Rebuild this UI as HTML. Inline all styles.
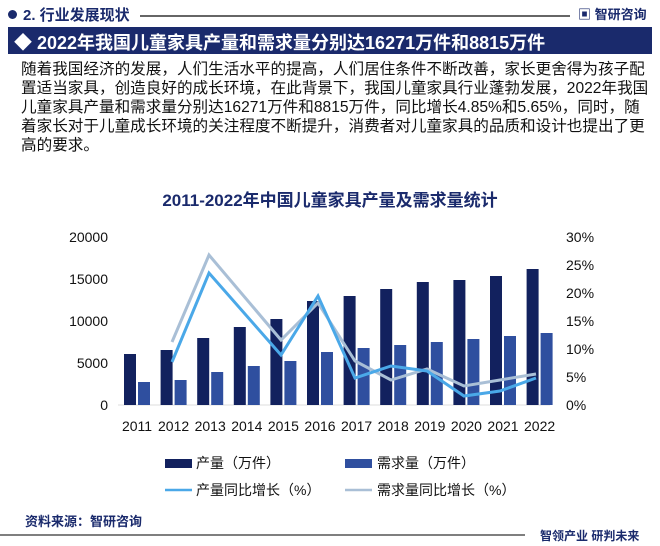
<!DOCTYPE html>
<html><head><meta charset="utf-8"><style>
body{margin:0;width:660px;height:546px;background:#fff;font-family:"Liberation Sans","Noto Sans CJK SC",sans-serif;position:relative;overflow:hidden;color:#111}
.a{position:absolute;white-space:nowrap}
</style></head><body>
<div class="a" style="left:8px;top:10px;width:9px;height:9px;border-radius:50%;background:#1a2a6c"></div>
<div class="a" style="left:23px;top:4px;font-size:15px;font-weight:bold;color:#1a2a6c">2. 行业发展现状</div>
<div class="a" style="left:140px;top:15px;width:430px;height:2px;background:#666"></div>
<div class="a" style="left:578px;top:4px;font-size:13px;font-weight:bold;color:#1a2a6c">▣ 智研咨询</div>
<div class="a" style="left:8px;top:27px;width:644px;height:27px;background:#1a2a6c"></div>
<div class="a" style="left:14px;top:29px;font-size:18px;font-weight:bold;color:#fff">◆ 2022年我国儿童家具产量和需求量分别达16271万件和8815万件</div>
<div class="a" style="left:21px;top:60px;font-size:15.6px;line-height:19px;color:#111">随着我国经济的发展，人们生活水平的提高，人们居住条件不断改善，家长更舍得为孩子配<br>置适当家具，创造良好的成长环境，在此背景下，我国儿童家具行业蓬勃发展，2022年我国<br>儿童家具产量和需求量分别达16271万件和8815万件，同比增长4.85%和5.65%，同时，随<br>着家长对于儿童成长环境的关注程度不断提升，消费者对儿童家具的品质和设计也提出了更<br>高的要求。</div>
<div class="a" style="left:0;width:660px;top:186px;text-align:center;font-size:17px;font-weight:bold;color:#1a2a6c">2011-2022年中国儿童家具产量及需求量统计</div>
<svg class="a" style="left:0;top:0" width="660" height="546">
<g font-family="Liberation Sans" font-size="14" fill="#111">
<text x="108" y="242" text-anchor="end">20000</text>
<text x="108" y="284" text-anchor="end">15000</text>
<text x="108" y="326" text-anchor="end">10000</text>
<text x="108" y="368" text-anchor="end">5000</text>
<text x="108" y="410" text-anchor="end">0</text>
<text x="566" y="242">30%</text><text x="566" y="270">25%</text><text x="566" y="298">20%</text>
<text x="566" y="326">15%</text><text x="566" y="354">10%</text><text x="566" y="382">5%</text><text x="566" y="410">0%</text>
</g>
<line x1="118" y1="405" x2="550" y2="405" stroke="#ddd"/>
<g id="bars"></g>
<polyline fill="none" stroke="#a9bfd6" stroke-width="3" points="172,342 209,255 281,340 318,303 355,361 391,380 427,369 464,386 500,380 536,374"/>
<polyline fill="none" stroke="#4aa8e8" stroke-width="3" points="172,362 209,273 281,355 318,296 355,378 391,366 427,371 464,396 500,391 536,378"/>
<g font-family="Liberation Sans" font-size="14" fill="#111" text-anchor="middle" id="xl"></g>
<rect x="165" y="459" width="27" height="9" fill="#12215e"/>
<rect x="345" y="459" width="27" height="9" fill="#2f4f9f"/>
<line x1="165" y1="490" x2="192" y2="490" stroke="#4aa8e8" stroke-width="2.5"/>
<line x1="345" y1="490" x2="372" y2="490" stroke="#a9bfd6" stroke-width="2.5"/>
<line x1="0" y1="535" x2="525" y2="535" stroke="#555" stroke-width="1.5"/>
</svg>
<div class="a" style="left:196px;top:453px;font-size:14px">产量（万件）</div>
<div class="a" style="left:377px;top:453px;font-size:14px">需求量（万件）</div>
<div class="a" style="left:196px;top:480px;font-size:14px">产量同比增长（%）</div>
<div class="a" style="left:377px;top:480px;font-size:14px">需求量同比增长（%）</div>
<div class="a" style="left:25px;top:511px;font-size:13px;font-weight:bold;color:#1a2a6c">资料来源：智研咨询</div>
<div class="a" style="left:540px;top:527px;font-size:12px;font-weight:bold;color:#1a2a6c">智领产业 研判未来</div>
<script>
var d=[354,350,338,327,319,301,296,289,282,280,276,269],l=[382,380,372,366,361,352,348,345,342,339,336,333];
var s='',t='';
for(var i=0;i<12;i++){var x=124+i*36.6;
s+='<rect x="'+x+'" y="'+d[i]+'" width="12" height="'+(405-d[i])+'" fill="#12215e"/>';
s+='<rect x="'+(x+14)+'" y="'+l[i]+'" width="12" height="'+(405-l[i])+'" fill="#2f4f9f"/>';
t+='<text x="'+(x+13)+'" y="431">'+(2011+i)+'</text>';}
document.getElementById('bars').innerHTML=s;document.getElementById('xl').innerHTML=t;
</script>
</body></html>
